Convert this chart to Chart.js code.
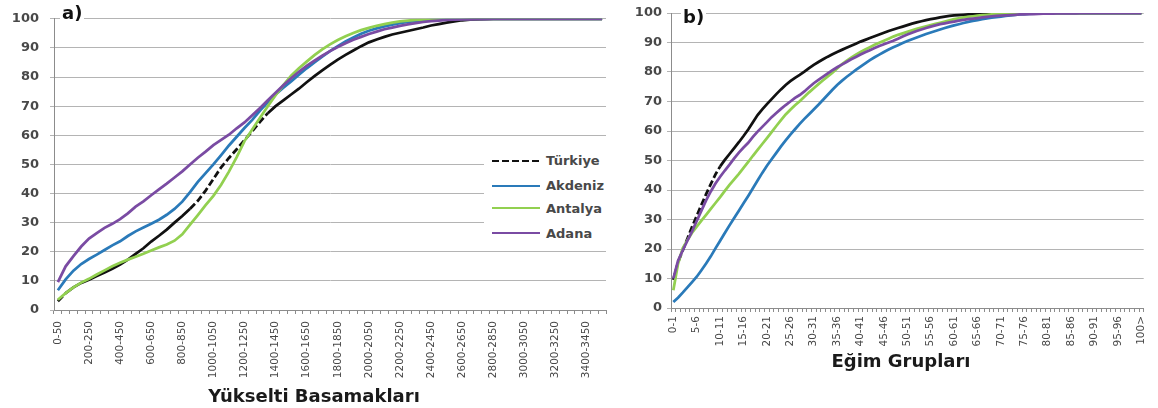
<!DOCTYPE html>
<html>
<head>
<meta charset="utf-8">
<script src="https://cdn.jsdelivr.net/npm/chart.js@4.4.1/dist/chart.umd.min.js"></script>
<style>
  body { margin: 0; background: #fff; width: 1158px; height: 408px; overflow: hidden; position: relative; font-family: "DejaVu Sans", sans-serif; }
  canvas { position: absolute; top: 0; }
  #chartA { left: 0; }
  #chartB { left: 628px; }
  .tag { position: absolute; font: bold 18px "DejaVu Sans"; line-height: 20px; background: #fff; padding: 0 2px; color: #111; }
  .xtitle { position: absolute; font: bold 18px "DejaVu Sans"; color: #1a1a1a; white-space: nowrap; transform: translate(-50%, -50%); }
  #legend { position: absolute; left: 484px; top: 146px; width: 124px; height: 98px; background: #fff; }
  .row { position: absolute; left: 8px; height: 20px; display: flex; align-items: center; font: bold 13px "DejaVu Sans"; color: #484848; white-space: nowrap; }
  .swatch { width: 48px; height: 2px; margin-right: 6px; }
</style>
</head>
<body>
<canvas id="chartA" width="640" height="408"></canvas>
<canvas id="chartB" width="530" height="373"></canvas>
<div class="tag" style="left:60px; top:3px;">a)</div>
<div class="tag" style="left:681px; top:7px;">b)</div>
<div class="xtitle" style="left:314px; top:395px;">Yükselti Basamakları</div>
<div class="xtitle" style="left:901px; top:360px;">Eğim Grupları</div>
<div id="legend"></div>

<script>
// ---- DATA ----
const seriesNames = ["Türkiye", "Akdeniz", "Antalya", "Adana"];
const seriesColors = ["#111111", "#2a7ab9", "#92d050", "#7a4ba3"];

// a) elevation steps (m)
const elevLabels = ["0-50","50-100","100-150","150-200","200-250","250-300","300-350","350-400","400-450","450-500",
  "500-550","550-600","600-650","650-700","700-750","750-800","800-850","850-900","900-950","950-1000",
  "1000-1050","1050-1100","1100-1150","1150-1200","1200-1250","1250-1300","1300-1350","1350-1400","1400-1450","1450-1500",
  "1500-1550","1550-1600","1600-1650","1650-1700","1700-1750","1750-1800","1800-1850","1850-1900","1900-1950","1950-2000",
  "2000-2050","2050-2100","2100-2150","2150-2200","2200-2250","2250-2300","2300-2350","2350-2400","2400-2450","2450-2500",
  "2500-2550","2550-2600","2600-2650","2650-2700","2700-2750","2750-2800","2800-2850","2850-2900","2900-2950","2950-3000",
  "3000-3050","3050-3100","3100-3150","3150-3200","3200-3250","3250-3300","3300-3350","3350-3400","3400-3450","3450-3500",
  "3500-3550"];

const turkiyeElev = [3, 5.8, 7.8, 9.3, 10.4, 11.7, 12.9, 14.2, 15.6, 17.3, 19.3, 21.2, 23.5, 25.5, 27.6, 30, 32.3, 34.8, 37.5, 41,
  45, 49, 52.2, 55.2, 58.3, 61.4, 64.6, 67.6, 70, 72, 74, 76, 78.2, 80.3, 82.3, 84.2, 86, 87.6, 89.1, 90.6,
  91.9, 92.9, 93.8, 94.6, 95.2, 95.8, 96.4, 97, 97.7, 98.2, 98.7, 99.1, 99.5, 99.7, 99.8, 99.9, 100, 100, 100, 100,
  100, 100, 100, 100, 100, 100, 100, 100, 100, 100, 100];
const akdenizElev = [6.8, 10.5, 13.5, 15.8, 17.5, 19, 20.6, 22.2, 23.6, 25.4, 27, 28.3, 29.6, 31, 32.7, 34.7, 37.2, 40.5, 44, 47,
  50, 53.2, 56.5, 59.5, 62.5, 65.3, 68.5, 71.3, 74, 76.3, 78.5, 80.8, 83, 85, 87, 88.9, 90.6, 92.2, 93.6, 94.9,
  95.9, 96.7, 97.4, 98, 98.5, 98.9, 99.2, 99.4, 99.6, 99.7, 99.8, 99.9, 100, 100, 100, 100, 100, 100, 100, 100,
  100, 100, 100, 100, 100, 100, 100, 100, 100, 100, 100];
const antalyaElev = [3.5, 5.8, 7.8, 9.4, 10.7, 12.2, 13.6, 15, 16.2, 17.3, 18.3, 19.3, 20.4, 21.5, 22.5, 23.8, 26, 29.3, 32.6, 36,
  39.2, 43, 47.5, 52.5, 58, 62, 66, 70, 73.8, 77.2, 80.5, 83, 85.3, 87.5, 89.5, 91.2, 92.7, 94, 95.1, 96.1,
  96.9, 97.6, 98.2, 98.7, 99.1, 99.4, 99.6, 99.8, 99.9, 100, 100, 100, 100, 100, 100, 100, 100, 100, 100, 100,
  100, 100, 100, 100, 100, 100, 100, 100, 100, 100, 100];
const adanaElev = [9.6, 15, 18.5, 21.8, 24.5, 26.4, 28.2, 29.6, 31.2, 33.2, 35.5, 37.3, 39.4, 41.4, 43.4, 45.5, 47.6, 50, 52.3, 54.4,
  56.6, 58.4, 60.2, 62.4, 64.4, 66.9, 69.4, 72, 74.6, 77.2, 79.6, 81.8, 83.8, 85.6, 87.3, 88.9, 90.3, 91.6, 92.8, 93.8,
  94.8, 95.6, 96.4, 97, 97.6, 98.1, 98.5, 98.9, 99.2, 99.4, 99.6, 99.7, 99.8, 99.8, 99.9, 99.9, 100, 100, 100, 100,
  100, 100, 100, 100, 100, 100, 100, 100, 100, 100, 100];

// b) slope groups (%)
const slopeLabels = ["0-1","1-2","2-3","3-4","4-5","5-6","6-7","7-8","8-9","9-10",
  "10-11","11-12","12-13","13-14","14-15","15-16","16-17","17-18","18-19","19-20",
  "20-21","21-22","22-23","23-24","24-25","25-26","26-27","27-28","28-29","29-30",
  "30-31","31-32","32-33","33-34","34-35","35-36","36-37","37-38","38-39","39-40",
  "40-41","41-42","42-43","43-44","44-45","45-46","46-47","47-48","48-49","49-50",
  "50-51","51-52","52-53","53-54","54-55","55-56","56-57","57-58","58-59","59-60",
  "60-61","61-62","62-63","63-64","64-65","65-66","66-67","67-68","68-69","69-70",
  "70-71","71-72","72-73","73-74","74-75","75-76","76-77","77-78","78-79","79-80",
  "80-81","81-82","82-83","83-84","84-85","85-86","86-87","87-88","88-89","89-90",
  "90-91","91-92","92-93","93-94","94-95","95-96","96-97","97-98","98-99","99-100",
  "100>"];

const turkiyeSlope = [9.5, 15.5, 19.5, 23.5, 27.5, 31.2, 35, 38.6, 42, 45.3, 48, 50.2, 52.2, 54.2, 56.2, 58.3, 60.5, 63, 65.4, 67.3,
  69.1, 70.8, 72.5, 74.1, 75.6, 76.9, 78, 79, 80.1, 81.3, 82.4, 83.4, 84.3, 85.2, 86, 86.8, 87.5, 88.2, 88.9, 89.6,
  90.3, 90.9, 91.5, 92.1, 92.7, 93.3, 93.9, 94.4, 94.9, 95.4, 95.9, 96.4, 96.8, 97.2, 97.6, 97.9, 98.2, 98.5, 98.8, 99,
  99.2, 99.3, 99.4, 99.5, 99.6, 99.65, 99.7, 99.75, 99.8, 99.85, 99.9, 99.9, 99.95, 100, 100, 100, 100, 100, 100, 100,
  100, 100, 100, 100, 100, 100, 100, 100, 100, 100, 100, 100, 100, 100, 100, 100, 100, 100, 100, 100,
  100];
const akdenizSlope = [2, 3.5, 5.2, 7, 8.8, 10.6, 12.8, 15.1, 17.5, 20.2, 22.8, 25.4, 28, 30.5, 33, 35.5, 38, 40.6, 43.2, 45.8,
  48.2, 50.4, 52.6, 54.8, 56.8, 58.8, 60.6, 62.4, 64.1, 65.7, 67.3, 68.9, 70.6, 72.3, 74, 75.6, 77, 78.3, 79.5, 80.7,
  81.8, 82.9, 84, 85, 85.9, 86.8, 87.6, 88.4, 89.1, 89.8, 90.5, 91.1, 91.7, 92.3, 92.9, 93.4, 93.9, 94.4, 94.9, 95.4,
  95.8, 96.2, 96.6, 97, 97.3, 97.6, 97.9, 98.2, 98.4, 98.6, 98.8, 99, 99.2, 99.35, 99.5, 99.6, 99.7, 99.75, 99.8, 99.85,
  99.9, 99.95, 99.95, 100, 100, 100, 100, 100, 100, 100, 100, 100, 100, 100, 100, 100, 100, 100, 100, 100,
  100];
const antalyaSlope = [6, 15, 20.2, 23, 25.5, 27.6, 29.6, 31.6, 33.6, 35.6, 37.6, 39.7, 41.7, 43.6, 45.5, 47.5, 49.5, 51.6, 53.6, 55.6,
  57.6, 59.6, 61.7, 63.7, 65.6, 67.2, 68.7, 70.1, 71.6, 73.1, 74.5, 75.9, 77.2, 78.5, 79.8, 81.2, 82.6, 83.8, 84.9, 85.9,
  86.8, 87.6, 88.4, 89.2, 89.9, 90.6, 91.3, 92, 92.6, 93.1, 93.6, 94.1, 94.6, 95.1, 95.5, 95.9, 96.3, 96.7, 97.1, 97.5,
  97.9, 98.2, 98.5, 98.7, 98.9, 99.1, 99.3, 99.4, 99.5, 99.6, 99.65, 99.7, 99.75, 99.8, 99.85, 99.9, 99.9, 99.95, 99.95, 99.95,
  100, 100, 100, 100, 100, 100, 100, 100, 100, 100, 100, 100, 100, 100, 100, 100, 100, 100, 100, 100,
  100];
const adanaSlope = [10, 16, 19.5, 22.8, 26, 29.5, 33, 36.5, 39.5, 42.2, 44.5, 46.6, 48.6, 50.7, 52.7, 54.4, 56, 58, 59.8, 61.4,
  63, 64.7, 66.1, 67.5, 68.8, 70, 71.2, 72.2, 73.4, 74.8, 76.2, 77.3, 78.4, 79.5, 80.6, 81.6, 82.5, 83.4, 84.3, 85.1,
  85.9, 86.7, 87.4, 88.1, 88.8, 89.4, 90, 90.6, 91.3, 92, 92.7, 93.3, 93.9, 94.4, 94.9, 95.4, 95.8, 96.2, 96.5, 96.8,
  97.1, 97.4, 97.7, 97.9, 98.1, 98.3, 98.5, 98.7, 98.9, 99, 99.1, 99.2, 99.3, 99.4, 99.5, 99.55, 99.6, 99.65, 99.7, 99.75,
  99.8, 99.8, 99.85, 99.85, 99.9, 99.9, 99.9, 99.95, 99.95, 99.95, 99.95, 100, 100, 100, 100, 100, 100, 100, 100, 100,
  100];

const yMin = 0, yMax = 100, yStep = 10;

// ---- HELPERS ----
const GRID = "#b4b4b4";
const AXIS = "#8c8c8c";
const TICK_TXT = "#484848";

// Excel draws the dashed line so that only long segments show gaps
function makeDataset(i, data, dashThreshold) {
  return {
    label: seriesNames[i],
    data,
    borderColor: seriesColors[i],
    borderWidth: 2.75,
    pointRadius: 0,
    tension: 0,
    fill: false,
    order: 4 - i,
    segment: i === 0 ? {
      borderDash: ctx => {
        const len = Math.hypot(ctx.p1.x - ctx.p0.x, ctx.p1.y - ctx.p0.y);
        return len > dashThreshold ? [7, 3] : undefined;
      }
    } : undefined
  };
}

function makeOptions(opts) {
  return {
    responsive: false,
    animation: false,
    devicePixelRatio: 1,
    layout: { padding: { top: opts.padTop, right: opts.padRight, left: 0, bottom: 0 } },
    plugins: { legend: { display: false }, tooltip: { enabled: false } },
    scales: {
      x: {
        type: "category",
        offset: true,
        grid: { drawOnChartArea: false, drawTicks: true, tickLength: 4, offset: true, color: AXIS },
        border: { color: AXIS, width: 1 },
        ticks: {
          autoSkip: false,
          minRotation: 90,
          maxRotation: 90,
          padding: opts.xPad,
          color: TICK_TXT,
          font: { family: "DejaVu Sans", size: 10.5 },
          callback: function (v, idx) { return idx % opts.every === 0 ? this.getLabelForValue(v) : ""; }
        },
        afterFit: s => { s.height = opts.xHeight; }
      },
      y: {
        min: yMin,
        max: yMax,
        ticks: { stepSize: yStep, padding: opts.yPad, color: TICK_TXT, font: { family: "DejaVu Sans", size: 13, weight: "bold" } },
        grid: { color: GRID, tickLength: 4 },
        border: { color: AXIS, width: 1 },
        afterFit: s => { s.width = opts.yWidth; }
      }
    }
  };
}

// ---- CHART A ----
new Chart(document.getElementById("chartA"), {
  type: "line",
  data: {
    labels: elevLabels,
    datasets: [
      makeDataset(0, turkiyeElev, 10.7),
      makeDataset(1, akdenizElev),
      makeDataset(2, antalyaElev),
      makeDataset(3, adanaElev)
    ]
  },
  options: makeOptions({ padTop: 14, padRight: 34, xHeight: 98, yWidth: 54, yPad: 11, xPad: 7, every: 4 })
});

// ---- CHART B ----
new Chart(document.getElementById("chartB"), {
  type: "line",
  data: {
    labels: slopeLabels,
    datasets: [
      makeDataset(0, turkiyeSlope, 9),
      makeDataset(1, akdenizSlope),
      makeDataset(2, antalyaSlope),
      makeDataset(3, adanaSlope)
    ]
  },
  options: makeOptions({ padTop: 13, padRight: 10, xHeight: 65, yWidth: 43, yPad: 5, xPad: 4, every: 5 })
});

// ---- LEGEND (inside plot a) ----
const legend = document.getElementById("legend");
const rowCenters = [14.7, 39.7, 62.3, 87.3];
seriesNames.forEach((name, i) => {
  const row = document.createElement("div");
  row.className = "row";
  row.style.top = (rowCenters[i] - 10) + "px";
  const sw = document.createElement("span");
  sw.className = "swatch";
  sw.style.background = i === 0
    ? `repeating-linear-gradient(90deg, ${seriesColors[i]} 0 7px, transparent 7px 10px)`
    : seriesColors[i];
  const txt = document.createElement("span");
  txt.textContent = name;
  row.appendChild(sw);
  row.appendChild(txt);
  legend.appendChild(row);
});
</script>
</body>
</html>
